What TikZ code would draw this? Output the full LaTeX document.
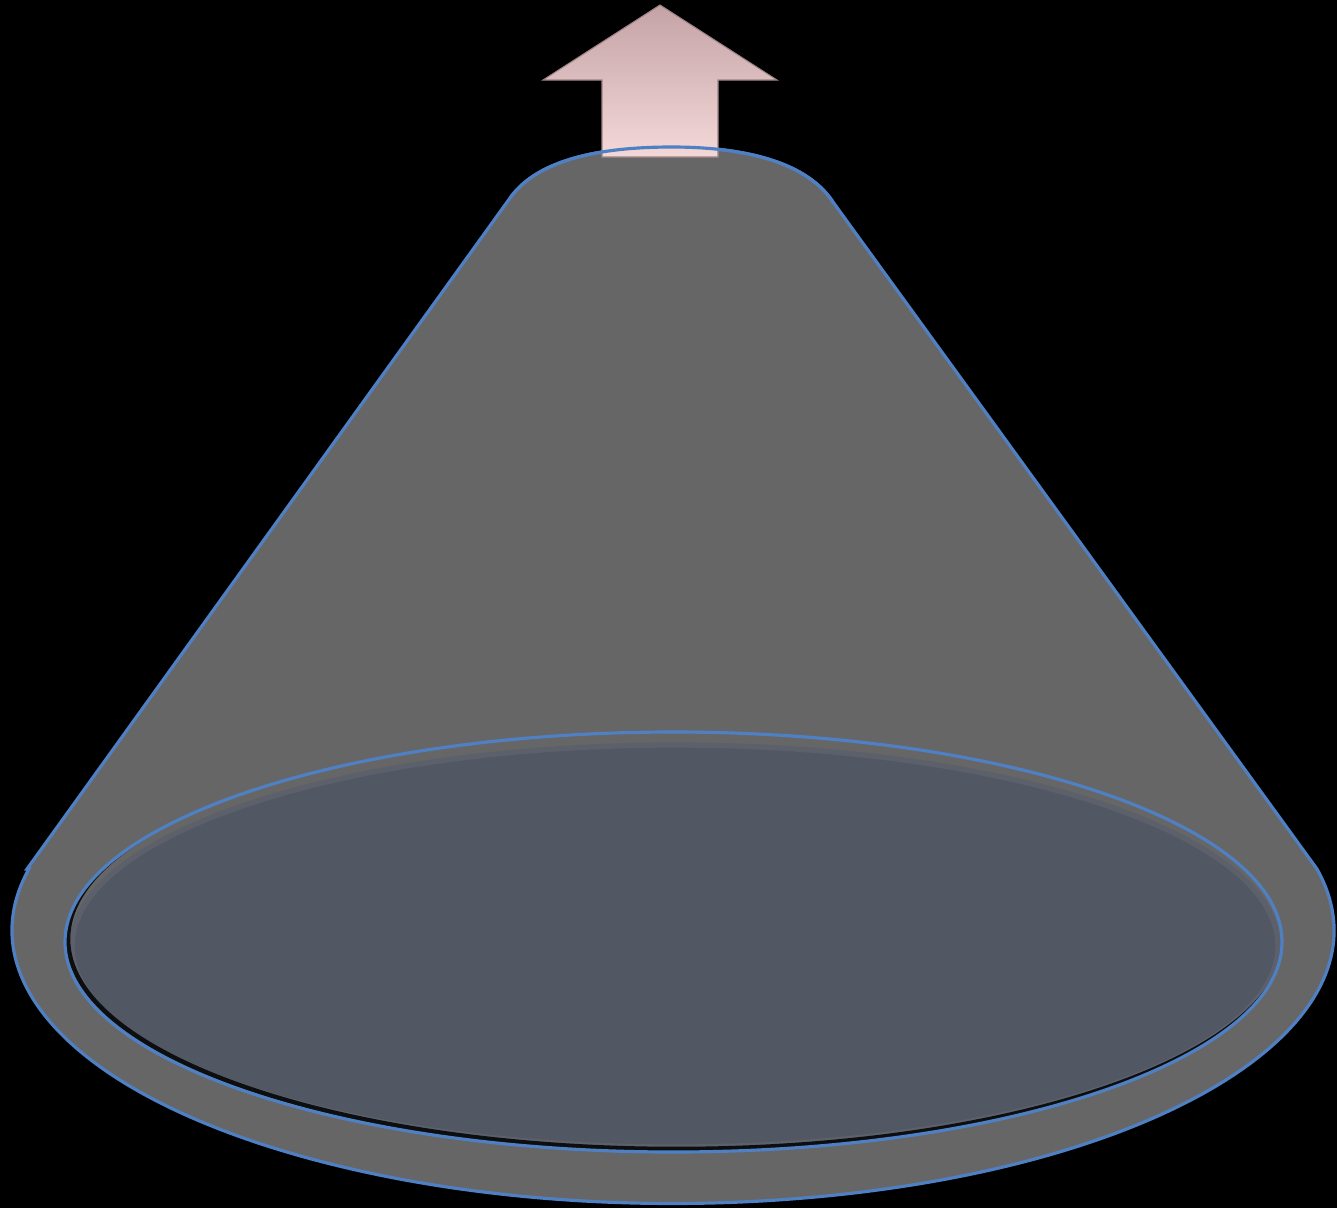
\documentclass[tikz,border=0pt]{standalone}
\usepackage{tikz}
\definecolor{kugis}{HTML}{666666}
\definecolor{dugnas}{HTML}{525764}
\definecolor{dugnokr}{HTML}{5C606A}
\definecolor{krastas}{HTML}{4F80C4}
\definecolor{rodvirsus}{HTML}{C4A3A6}
\definecolor{rodapacia}{HTML}{F4D8D8}

\begin{document}
\begin{tikzpicture}[
    linija/.style={draw=krastas, line width=0.9pt},
    seselis/.style={draw=black, line width=1.3pt, opacity=0.85}]
    \useasboundingbox (0,0) rectangle (13.37,12.08);
    \fill[black] (0,0) rectangle (13.37,12.08);
    % Kūgio šonas
    \coordinate (virsK) at (5.10,10.10);
    \coordinate (virsD) at (8.33,10.06);
    \coordinate (apacK) at (0.27,3.39);
    \coordinate (apacD) at (13.17,3.39);
    \filldraw[fill=kugis, linija] (apacK) -- (virsK)
        .. controls (5.40,10.52) and (6.10,10.61) .. (6.72,10.61)
        .. controls (7.34,10.61) and (8.04,10.50) .. (virsD)
        -- (apacD) arc[start angle=13, end angle=-193, x radius=6.61, y radius=2.73] -- cycle;
    % Rodyklė (aukštyn)
    \shade[top color=rodvirsus, bottom color=rodapacia, draw=rodvirsus!80!black, line width=0.3pt]
        (6.02,10.51) -- (6.02,11.28) -- (5.43,11.28) -- (6.60,12.03)
        -- (7.77,11.28) -- (7.18,11.28) -- (7.18,10.51) -- cycle;
    \draw[linija] (virsK) .. controls (5.40,10.52) and (6.10,10.61) .. (6.72,10.61)
        .. controls (7.34,10.61) and (8.04,10.50) .. (virsD);
    % Dugnas
    \coordinate (dugnoC) at (6.735,2.66);
    \begin{scope}
        \clip (dugnoC) ellipse[x radius=6.085, y radius=2.10];
        \fill[dugnas, draw=dugnokr, line width=1.5pt] (6.75,2.62) ellipse[x radius=6.03, y radius=2.01];
        \draw[seselis] (6.765,2.69) ellipse[x radius=6.085, y radius=2.10];
    \end{scope}
    \draw[linija] (dugnoC) ellipse[x radius=6.085, y radius=2.10];
\end{tikzpicture}
\end{document}
